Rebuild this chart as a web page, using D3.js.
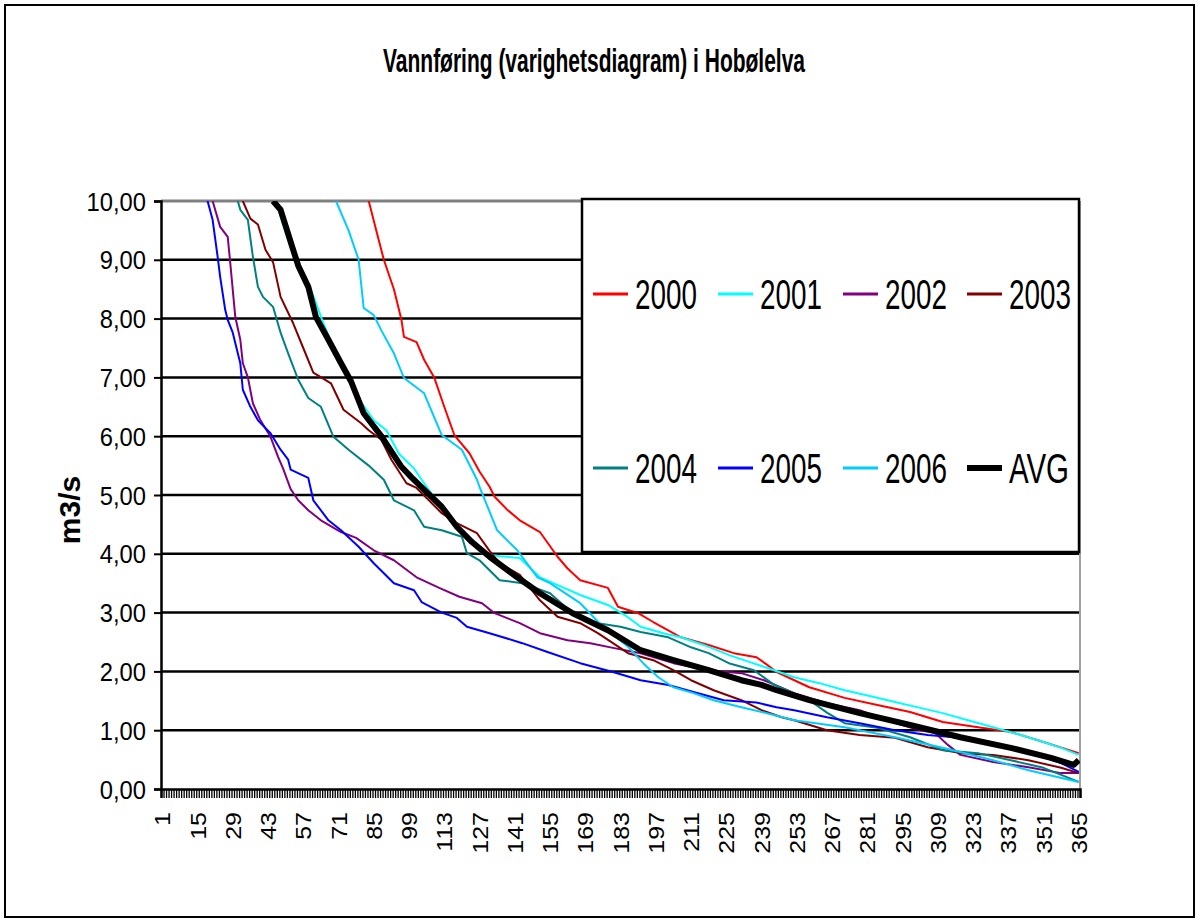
<!DOCTYPE html>
<html>
<head>
<meta charset="utf-8">
<script src="https://cdn.jsdelivr.net/npm/d3@7/dist/d3.min.js"></script>
<style>
  body { margin: 0; background: #fff; }
  svg { display: block; font-family: "Liberation Sans", Arial, sans-serif; }
</style>
</head>
<body>
<div id="chart"></div>
<script>
// duration curves (day rank, m3/s)
const q2000 = [[83,10],[86,9.5],[89,9.0],[93,8.5],[96,7.98],[97,7.69],[102,7.6],[105,7.3],[109,7.0],[113,6.5],[117,6.02],[123,5.71],[127,5.4],[131,5.14],[133,4.97],[138,4.75],[143,4.57],[151,4.37],[158,3.95],[162,3.75],[167,3.55],[178,3.42],[182,3.1],[190,2.99],[196,2.84],[207,2.58],[218,2.45],[228,2.31],[237,2.24],[241,2.12],[245,1.99],[258,1.73],[272,1.55],[285,1.43],[298,1.31],[311,1.14],[325,1.05],[338,0.97],[351,0.8],[365,0.61]];
const q2001 = [[46,10],[52,9.2],[60,8.5],[65,7.92],[72,7.2],[78,6.7],[85,6.27],[90,6.1],[95,5.7],[101,5.45],[104,5.26],[110,4.9],[114,4.69],[120,4.35],[128,4.01],[135,3.96],[143,3.93],[151,3.6],[159,3.45],[167,3.3],[178,3.13],[185,2.95],[191,2.76],[200,2.65],[207,2.58],[216,2.45],[226,2.28],[235,2.15],[244,2.02],[252,1.9],[262,1.8],[272,1.68],[282,1.58],[292,1.48],[302,1.38],[311,1.29],[321,1.17],[331,1.05],[341,0.93],[351,0.8],[358,0.7],[365,0.58]];
const q2002 = [[21,10],[24,9.56],[27,9.39],[28,8.95],[30,8.03],[32,7.64],[33,7.24],[35,7.0],[37,6.56],[40,6.27],[44,5.99],[47,5.65],[49,5.45],[52,5.1],[55,4.91],[59,4.74],[64,4.57],[72,4.37],[78,4.27],[85,4.06],[93,3.89],[102,3.6],[111,3.42],[119,3.27],[128,3.16],[133,2.99],[143,2.82],[151,2.65],[162,2.53],[171,2.48],[180,2.4],[191,2.31],[204,2.14],[218,2.02],[231,1.97],[240,1.85],[252,1.63],[265,1.46],[278,1.34],[292,1.12],[302,1.0],[308,0.95],[313,0.75],[318,0.58],[331,0.46],[345,0.37],[358,0.27],[365,0.27]];
const q2003 = [[33,10],[36,9.7],[39,9.6],[42,9.17],[45,8.96],[48,8.37],[53,7.92],[57,7.5],[61,7.08],[68,6.9],[73,6.45],[80,6.22],[83,6.1],[88,5.94],[92,5.6],[98,5.2],[102,5.12],[106,4.95],[112,4.69],[118,4.52],[126,4.35],[131,4.05],[135,3.84],[143,3.64],[151,3.21],[158,2.93],[167,2.82],[174,2.65],[186,2.31],[196,2.19],[204,2.02],[211,1.85],[220,1.68],[231,1.51],[239,1.34],[247,1.22],[252,1.17],[265,1.0],[278,0.92],[292,0.87],[305,0.71],[318,0.61],[331,0.58],[345,0.49],[358,0.36],[365,0.27]];
const q2004 = [[31,10],[32,9.85],[35,9.68],[37,9.05],[39,8.54],[41,8.37],[45,8.2],[48,7.76],[51,7.41],[55,6.96],[59,6.65],[64,6.5],[69,5.99],[75,5.77],[83,5.5],[89,5.26],[93,4.91],[101,4.74],[105,4.46],[112,4.4],[120,4.29],[122,4.01],[127,3.89],[135,3.55],[144,3.5],[155,3.33],[164,2.99],[174,2.82],[183,2.76],[191,2.67],[202,2.58],[211,2.41],[218,2.31],[226,2.14],[236,2.02],[244,1.77],[247,1.72],[258,1.51],[265,1.3],[272,1.12],[285,1.04],[298,0.88],[311,0.66],[325,0.61],[338,0.49],[351,0.36],[365,0.12]];
const q2005 = [[19,10],[21,9.68],[23,9.05],[24,8.71],[26,8.15],[27,7.98],[29,7.76],[31,7.41],[32,7.24],[33,6.79],[36,6.5],[39,6.27],[44,6.05],[48,5.77],[51,5.6],[52,5.43],[56,5.35],[59,5.29],[61,4.91],[67,4.57],[72,4.4],[79,4.12],[85,3.84],[93,3.5],[101,3.38],[104,3.18],[112,3.0],[118,2.91],[122,2.76],[131,2.65],[144,2.48],[154,2.33],[167,2.14],[180,1.99],[191,1.85],[202,1.77],[212,1.65],[224,1.51],[237,1.47],[245,1.39],[252,1.34],[265,1.22],[278,1.12],[292,1.0],[305,0.92],[318,0.87],[331,0.78],[345,0.63],[358,0.44],[365,0.29]];
const q2006 = [[70,10],[75,9.5],[79,9.0],[81,8.18],[85,8.06],[88,7.8],[93,7.41],[97,6.99],[105,6.73],[112,6.02],[120,5.77],[126,5.26],[127,5.14],[134,4.4],[142,4.06],[150,3.6],[155,3.5],[167,3.16],[176,2.76],[186,2.42],[192,2.14],[198,1.9],[204,1.73],[212,1.63],[220,1.51],[231,1.39],[240,1.3],[252,1.17],[272,1.05],[292,0.88],[311,0.7],[331,0.49],[345,0.32],[365,0.12]];
const qAvg = [[45,10],[48,9.85],[53,9.17],[55,8.9],[59,8.54],[62,8.03],[67,7.64],[72,7.24],[76,6.93],[81,6.39],[88,6.0],[96,5.48],[100,5.3],[105,5.09],[112,4.8],[118,4.46],[124,4.2],[131,3.95],[142,3.6],[151,3.33],[164,2.99],[178,2.7],[191,2.36],[204,2.19],[218,2.02],[231,1.85],[239,1.77],[245,1.68],[258,1.51],[278,1.29],[298,1.09],[318,0.88],[338,0.7],[354,0.53],[363,0.41],[365,0.49]];

const seriesNames = ["2000","2001","2002","2003","2004","2005","2006","AVG"];
const seriesColors = ["#ff0000","#00ffff","#800080","#800000","#008080","#0000ff","#00ccff","#000000"];
const seriesData = [q2000,q2001,q2002,q2003,q2004,q2005,q2006,qAvg];

const days = d3.range(1, 366);
const xLabelDays = d3.range(1, 366, 14);
const yTicks = d3.range(0, 11, 1);

// set the dimensions and margins for the chart
let margin = {top: 201, right: 120, bottom: 135, left: 161};
let fullWidth = 1200, fullHeight = 924;
let width = fullWidth - margin.left - margin.right,
    height = fullHeight - margin.top - margin.bottom;

const root = d3.select("#chart")
  .append("svg")
    .attr("width", fullWidth)
    .attr("height", fullHeight);

// outer chart border
root.append("rect")
    .attr("x", 5).attr("y", 5)
    .attr("width", 1189).attr("height", 912)
    .attr("fill", "none").attr("stroke", "#000").attr("stroke-width", 2);

// title
root.append("text")
    .attr("x", 594).attr("y", 72)
    .attr("text-anchor", "middle")
    .attr("font-weight", "bold")
    .attr("font-size", 34)
    .attr("textLength", 422)
    .attr("lengthAdjust", "spacingAndGlyphs")
    .text("Vannføring (varighetsdiagram) i Hobølelva");

// y axis title
root.append("text")
    .attr("transform", "translate(80,510) rotate(-90)")
    .attr("text-anchor", "middle")
    .attr("font-weight", "bold")
    .attr("font-size", 30)
    .text("m3/s");

const svg = root.append("g")
    .attr("transform", "translate(" + margin.left + "," + margin.top + ")");

// scales
const x = d3.scaleLinear().domain([0.5, 365.5]).range([0, width]);
const xBand = d3.scaleBand().domain(days).range([0, width]);
const y = d3.scaleLinear().domain([0, 10]).range([height, 0]);

// gridlines
svg.selectAll(".grid")
  .data(yTicks.filter(d => d > 0))
  .enter()
  .append("line")
    .attr("x1", 0).attr("x2", width)
    .attr("y1", d => y(d)).attr("y2", d => y(d))
    .attr("stroke", d => d === 10 ? "#808080" : "#000")
    .attr("stroke-width", d => d === 10 ? 3 : 2.5);

// plot area right border
svg.append("line")
    .attr("x1", width).attr("x2", width)
    .attr("y1", 0).attr("y2", height)
    .attr("stroke", "#a0a0a0").attr("stroke-width", 2);

// y axis
const yAxis = svg.append("g")
    .call(d3.axisLeft(y).tickValues(yTicks).tickSize(7)
      .tickFormat(d => d.toFixed(2).replace(".", ",")));
yAxis.select(".domain").attr("stroke-width", 2.5);
yAxis.selectAll(".tick line").attr("stroke-width", 2);
yAxis.selectAll(".tick text")
    .attr("x", null).attr("dy", "0.36em")
    .attr("transform", "translate(-15,0) scale(0.95,1)")
    .attr("font-size", 25)
    .attr("fill", "#000");

// x axis: tick marks between every category
const xTickAxis = svg.append("g")
    .attr("transform", "translate(0," + height + ")")
    .call(d3.axisBottom(x).tickValues(d3.range(0.5, 366, 1)).tickSize(9).tickFormat(""));
xTickAxis.select(".domain").attr("stroke-width", 2.5);
xTickAxis.selectAll(".tick line").attr("stroke-width", 1.3).attr("stroke", "#000");

// x axis labels every 14th day
const xLabelAxis = svg.append("g")
    .attr("transform", "translate(0," + height + ")")
    .call(d3.axisBottom(xBand).tickValues(xLabelDays).tickSize(0));
xLabelAxis.select(".domain").remove();
xLabelAxis.selectAll(".tick text")
    .attr("y", null).attr("dy", "0.36em")
    .attr("text-anchor", "end")
    .attr("transform", "translate(0,23) rotate(-90) scale(1,0.9)")
    .attr("font-size", 25)
    .attr("fill", "#000");

// clip lines to plot area
svg.append("clipPath").attr("id", "plotClip")
  .append("rect").attr("x", 0).attr("y", 0).attr("width", width).attr("height", height);

const line = d3.line()
    .x(d => x(d[0]))
    .y(d => y(d[1]));

svg.append("g").attr("clip-path", "url(#plotClip)")
  .selectAll(".series")
  .data(seriesData)
  .enter()
  .append("path")
    .attr("class", "series")
    .attr("d", d => line(d))
    .attr("fill", "none")
    .attr("stroke", (d, i) => seriesColors[i])
    .attr("stroke-width", (d, i) => seriesNames[i] === "AVG" ? 6 : 2)
    .attr("stroke-linejoin", "round");

// legend
const legend = root.append("g");
legend.append("rect")
    .attr("x", 582).attr("y", 199)
    .attr("width", 497).attr("height", 353)
    .attr("fill", "#fff").attr("stroke", "#000").attr("stroke-width", 2.5);

const legendCols = [593, 718, 843, 967];
const legendRows = [294, 468];
const items = legend.selectAll(".item")
  .data(seriesNames)
  .enter()
  .append("g")
    .attr("class", "item")
    .attr("transform", (d, i) => "translate(" + legendCols[i % 4] + "," + legendRows[Math.floor(i / 4)] + ")");

items.append("line")
    .attr("x1", 0).attr("x2", 35)
    .attr("stroke", (d, i) => seriesColors[i])
    .attr("stroke-width", d => d === "AVG" ? 6 : 3);

items.append("text")
    .attr("x", 42).attr("y", 15)
    .attr("font-size", 42)
    .attr("textLength", d => d === "AVG" ? 60 : 62)
    .attr("lengthAdjust", "spacingAndGlyphs")
    .text(d => d);
</script>
</body>
</html>
